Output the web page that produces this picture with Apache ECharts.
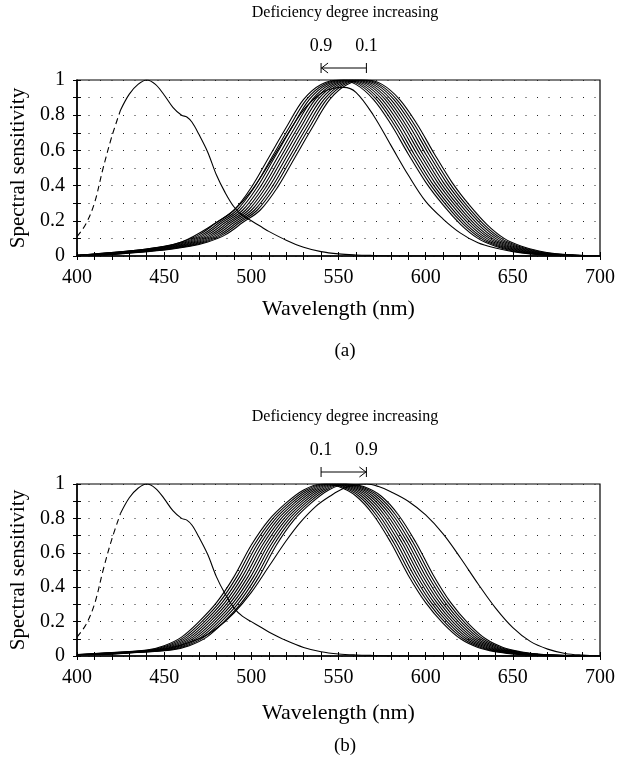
<!DOCTYPE html>
<html><head><meta charset="utf-8">
<script src="https://cdn.jsdelivr.net/npm/echarts@6/dist/echarts.min.js"></script>
<style>html,body{margin:0;padding:0;background:#fff}#c{width:618px;height:763px}</style>
</head><body><div id="c"></div>
<script>
// ---- data ----
const xLabelValues = [400, 450, 500, 550, 600, 650, 700];
const yLabelValues = [0, 0.2, 0.4, 0.6, 0.8, 1];
const panelTitles = ['Deficiency degree increasing', 'Deficiency degree increasing'];
const panelLetters = ['(a)', '(b)'];
const xName = 'Wavelength (nm)';
const yName = 'Spectral sensitivity';

// S-cone curve (same in both panels); dashed part then solid part
const sDashed = [[400,0.11],[405,0.18],[410,0.30],[415,0.50],[420,0.68],[425,0.83]];
const sSolid = [[425,0.83],[430,0.92],[435,0.975],[440,1.0],[445,0.975],[450,0.915],[455,0.845],[460,0.80],[463,0.79],[466,0.76],[470,0.69],[475,0.59],[480,0.46],[485,0.36],[490,0.28],[495,0.23],[500,0.20],[505,0.17],[510,0.14],[520,0.09],[530,0.05],[540,0.025],[550,0.012],[560,0.006],[570,0.003],[580,0.001],[600,0],[700,0]];

// panel (a): band of shifted curves (shape of the curve peaking at aBandPeaks[0]) + separate curve
const aBandShape = [[400,0.005],[420,0.02],[440,0.04],[450,0.055],[460,0.08],[470,0.12],[480,0.19],[490,0.26],[500,0.39],[510,0.56],[520,0.73],[530,0.89],[540,0.975],[551,1.0],[560,0.975],[570,0.89],[580,0.75],[590,0.58],[600,0.42],[610,0.29],[620,0.18],[630,0.10],[640,0.055],[650,0.028],[660,0.013],[670,0.006],[680,0.003],[690,0.001],[700,0]];
const aBandPeaks = [551, 552.7, 554.3, 556, 557.7, 559.3, 561, 562.7, 564.3, 566];
const aLone = [[400,0.005],[440,0.04],[460,0.08],[480,0.19],[490,0.26],[500,0.37],[510,0.52],[520,0.68],[530,0.83],[540,0.925],[548,0.955],[553,0.958],[560,0.93],[570,0.80],[580,0.63],[590,0.46],[600,0.31],[610,0.21],[620,0.13],[630,0.075],[640,0.045],[650,0.025],[660,0.012],[670,0.006],[680,0.003],[700,0]];

// panel (b)
const bBandShape = [[400,0.008],[420,0.02],[440,0.035],[450,0.06],[460,0.11],[470,0.20],[480,0.31],[490,0.46],[500,0.645],[510,0.79],[520,0.89],[530,0.965],[540,1.0],[550,0.985],[560,0.93],[570,0.82],[580,0.66],[590,0.47],[600,0.31],[610,0.19],[620,0.10],[630,0.05],[640,0.025],[650,0.012],[660,0.005],[680,0.001],[700,0]];
const bBandPeaks = [540, 541.6, 543.2, 544.8, 546.4, 548, 549.6, 551.2, 552.8, 554.4];
const bLone = [[400,0.005],[450,0.04],[470,0.10],[480,0.16],[490,0.25],[500,0.37],[510,0.52],[520,0.67],[527.5,0.77],[537,0.87],[546,0.935],[553,0.975],[560,0.995],[566,1.0],[573,0.985],[580,0.955],[590,0.90],[600,0.82],[610,0.71],[620,0.57],[630,0.42],[640,0.28],[650,0.165],[660,0.085],[670,0.04],[680,0.015],[690,0.005],[700,0]];

// arrow annotations: [wavelength of left end, wavelength of right end], labels, direction
const arrowEnds = [[540, 566], [540, 566]];
const arrowLabels = [['0.9', '0.1'], ['0.1', '0.9']];
const arrowPointsLeft = [true, false];

// ---- chart ----
const FONT = 'Liberation Serif';
const chart = echarts.init(document.getElementById('c'), null, {renderer: 'canvas'});

const grids = [
  {left: 76, right: 15, top: 80, height: 176},
  {left: 76, right: 15, top: 484, height: 172}
];
const letterOffsets = [95, 90];
const nameGaps = [42, 46];

function fmtY(v) {
  const r = Math.round(v * 10) / 10;
  if (Math.round(r * 10) % 2 !== 0) return '';
  if (r === 0) return '0';
  if (r === 1) return '1';
  return r.toFixed(1);
}
function fmtX(v) {
  return xLabelValues.indexOf(v) >= 0 ? String(v) : '';
}

const xAxes = [], yAxes = [];
grids.forEach((g, i) => {
  xAxes.push({
    gridIndex: i, type: 'value', min: 400, max: 700, interval: 10,
    name: xName, nameLocation: 'middle', nameGap: nameGaps[i],
    nameTextStyle: {fontFamily: FONT, fontSize: 22, color: '#000'},
    axisLine: {lineStyle: {color: '#000', width: 1.5}},
    axisTick: {show: true, length: 4, lineStyle: {color: '#000'}},
    axisLabel: {formatter: fmtX, fontFamily: FONT, fontSize: 20, color: '#000', margin: 12, showMinLabel: true, showMaxLabel: true, hideOverlap: false},
    splitLine: {show: false}
  });
  xAxes.push({
    gridIndex: i, type: 'value', min: 400, max: 700, interval: 10, position: 'bottom',
    axisLine: {show: false},
    axisTick: {show: true, inside: true, length: 4, lineStyle: {color: '#000'}},
    axisLabel: {show: false}, splitLine: {show: false}
  });
  yAxes.push({
    gridIndex: i, type: 'value', min: 0, max: 1, interval: 0.1,
    name: yName, nameLocation: 'middle', nameGap: 48,
    nameTextStyle: {fontFamily: FONT, fontSize: 21, color: '#000'},
    axisLine: {show: true, lineStyle: {color: '#000', width: 1.5}},
    axisTick: {show: true, length: 4, lineStyle: {color: '#000'}},
    axisLabel: {formatter: fmtY, fontFamily: FONT, fontSize: 20, color: '#000', margin: 12, showMinLabel: true, showMaxLabel: true, hideOverlap: false},
    splitLine: {show: true, lineStyle: {color: '#222', width: 1, type: [1, 10.5]}}
  });
  yAxes.push({
    gridIndex: i, type: 'value', min: 0, max: 1, interval: 0.1, position: 'left',
    axisLine: {show: false},
    axisTick: {show: true, inside: true, length: 4, lineStyle: {color: '#000'}},
    axisLabel: {show: false}, splitLine: {show: false}
  });
});

const series = [];
function line(data, gi, dashed) {
  series.push({
    type: 'line', data: data, xAxisIndex: gi * 2, yAxisIndex: gi * 2,
    showSymbol: false, smooth: 0.35, silent: true, animation: false,
    lineStyle: {color: '#000', width: 1.1, type: dashed ? [6, 4] : 'solid'},
    z: 3
  });
}
function shifted(shape, basePeak, peak) {
  return shape.map(p => [p[0] + (peak - basePeak), p[1]])
              .filter(p => p[0] >= 400 && p[0] <= 700);
}

[0, 1].forEach(gi => {
  line(sDashed, gi, true);
  line(sSolid, gi, false);
});
aBandPeaks.forEach(pk => line(shifted(aBandShape, aBandPeaks[0], pk), 0, false));
line(aLone, 0, false);
bBandPeaks.forEach(pk => line(shifted(bBandShape, bBandPeaks[0], pk), 1, false));
line(bLone, 1, false);

chart.setOption({
  animation: false,
  backgroundColor: '#fff',
  grid: grids.map(g => Object.assign({show: true, borderColor: '#000', borderWidth: 1.2, backgroundColor: 'transparent', containLabel: false}, g)),
  xAxis: xAxes,
  yAxis: yAxes,
  series: series
});

// annotations placed through the chart's own coordinate conversion
const graphics = [];
[0, 1].forEach(gi => {
  const g = grids[gi];
  const pL = chart.convertToPixel({gridIndex: gi}, [arrowEnds[gi][0], 1]);
  const pR = chart.convertToPixel({gridIndex: gi}, [arrowEnds[gi][1], 1]);
  const topY = g.top;
  const ay = topY - 12;
  graphics.push({type: 'text', x: 345, y: topY - 67,
    style: {text: panelTitles[gi], font: '16px "' + FONT + '"', fill: '#000', textAlign: 'center', textVerticalAlign: 'middle'}});
  graphics.push({type: 'text', x: pL[0], y: ay - 22, style: {text: arrowLabels[gi][0], font: '18px "' + FONT + '"', fill: '#000', textAlign: 'center', textVerticalAlign: 'middle'}});
  graphics.push({type: 'text', x: pR[0], y: ay - 22, style: {text: arrowLabels[gi][1], font: '18px "' + FONT + '"', fill: '#000', textAlign: 'center', textVerticalAlign: 'middle'}});
  graphics.push({type: 'line', shape: {x1: pL[0], y1: ay, x2: pR[0], y2: ay}, style: {stroke: '#000', lineWidth: 1}});
  graphics.push({type: 'line', shape: {x1: pL[0], y1: ay - 5, x2: pL[0], y2: ay + 5}, style: {stroke: '#000', lineWidth: 1}});
  graphics.push({type: 'line', shape: {x1: pR[0], y1: ay - 5, x2: pR[0], y2: ay + 5}, style: {stroke: '#000', lineWidth: 1}});
  const tipX = arrowPointsLeft[gi] ? pL[0] : pR[0];
  const dir = arrowPointsLeft[gi] ? 1 : -1;
  graphics.push({type: 'polyline', shape: {points: [[tipX + dir * 7, ay - 5], [tipX + 0.5 * dir, ay], [tipX + dir * 7, ay + 5]]}, style: {stroke: '#000', lineWidth: 1, fill: null}});
  const bottomY = g.top + g.height;
  graphics.push({type: 'text', x: 345, y: bottomY + letterOffsets[gi], style: {text: panelLetters[gi], font: '19px "' + FONT + '"', fill: '#000', textAlign: 'center', textVerticalAlign: 'middle'}});
});
chart.setOption({graphic: graphics});
</script>
</body></html>
